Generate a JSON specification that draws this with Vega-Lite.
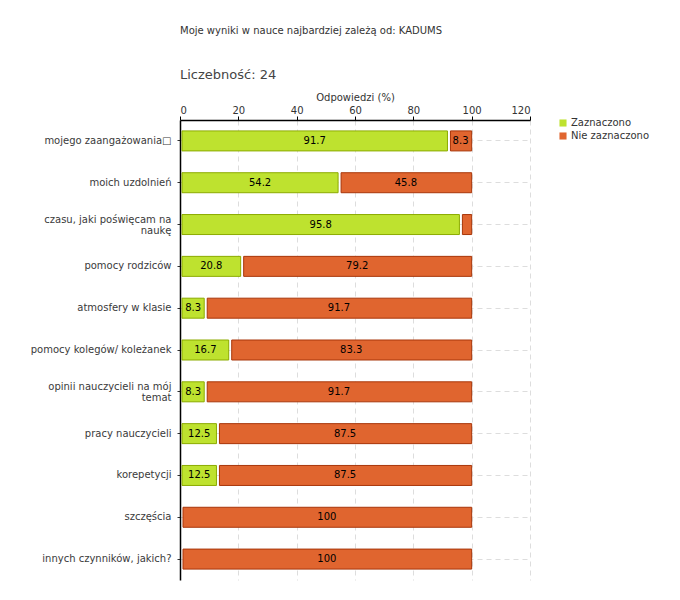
{
  "$schema": "https://vega.github.io/schema/vega-lite/v6.json",
  "width": 350,
  "height": 460,
  "autosize": {"type": "none"},
  "padding": {"left": 180, "top": 120, "right": 150, "bottom": 20},
  "background": "white",
  "title": {
    "text": "Moje wyniki w nauce najbardziej zależą od: KADUMS",
    "subtitle": "Liczebność: 24",
    "anchor": "start",
    "frame": "group",
    "font": "DejaVu Sans",
    "fontSize": 10,
    "fontWeight": "normal",
    "color": "#333333",
    "subtitleFont": "DejaVu Sans",
    "subtitleFontSize": 13,
    "subtitleColor": "#444444",
    "subtitlePadding": 33,
    "offset": 10
  },
  "config": {
    "view": {"stroke": null},
    "font": "DejaVu Sans"
  },
  "data": {
    "values": [
      {"cat": "mojego zaangażowania□", "series": "Zaznaczono", "o": 1, "value": 91.7},
      {"cat": "mojego zaangażowania□", "series": "Nie zaznaczono", "o": 2, "value": 8.3},
      {"cat": "moich uzdolnień", "series": "Zaznaczono", "o": 1, "value": 54.2},
      {"cat": "moich uzdolnień", "series": "Nie zaznaczono", "o": 2, "value": 45.8},
      {"cat": "czasu, jaki poświęcam na\nnaukę", "series": "Zaznaczono", "o": 1, "value": 95.8},
      {"cat": "czasu, jaki poświęcam na\nnaukę", "series": "Nie zaznaczono", "o": 2, "value": 4.2},
      {"cat": "pomocy rodziców", "series": "Zaznaczono", "o": 1, "value": 20.8},
      {"cat": "pomocy rodziców", "series": "Nie zaznaczono", "o": 2, "value": 79.2},
      {"cat": "atmosfery w klasie", "series": "Zaznaczono", "o": 1, "value": 8.3},
      {"cat": "atmosfery w klasie", "series": "Nie zaznaczono", "o": 2, "value": 91.7},
      {"cat": "pomocy kolegów/ koleżanek", "series": "Zaznaczono", "o": 1, "value": 16.7},
      {"cat": "pomocy kolegów/ koleżanek", "series": "Nie zaznaczono", "o": 2, "value": 83.3},
      {"cat": "opinii nauczycieli na mój\ntemat", "series": "Zaznaczono", "o": 1, "value": 8.3},
      {"cat": "opinii nauczycieli na mój\ntemat", "series": "Nie zaznaczono", "o": 2, "value": 91.7},
      {"cat": "pracy nauczycieli", "series": "Zaznaczono", "o": 1, "value": 12.5},
      {"cat": "pracy nauczycieli", "series": "Nie zaznaczono", "o": 2, "value": 87.5},
      {"cat": "korepetycji", "series": "Zaznaczono", "o": 1, "value": 12.5},
      {"cat": "korepetycji", "series": "Nie zaznaczono", "o": 2, "value": 87.5},
      {"cat": "szczęścia", "series": "Zaznaczono", "o": 1, "value": 0},
      {"cat": "szczęścia", "series": "Nie zaznaczono", "o": 2, "value": 100},
      {"cat": "innych czynników, jakich?", "series": "Zaznaczono", "o": 1, "value": 0},
      {"cat": "innych czynników, jakich?", "series": "Nie zaznaczono", "o": 2, "value": 100}
    ]
  },
  "transform": [
    {"stack": "value", "groupby": ["cat"], "sort": [{"field": "o"}], "as": ["x0", "x1"]},
    {"calculate": "(datum.x0 + datum.x1) / 2", "as": "mid"}
  ],
  "encoding": {
    "y": {
      "field": "cat",
      "type": "nominal",
      "sort": null,
      "scale": {"paddingInner": 0, "paddingOuter": 0},
      "axis": {
        "title": null,
        "labelExpr": "split(datum.label, '\\n')",
        "labelFont": "DejaVu Sans",
        "labelFontSize": 10,
        "labelColor": "#3a3a3a",
        "labelLimit": 300,
        "labelPadding": 6,
        "labelLineHeight": 11,
        "labelOffset": {"condition": {"test": "indexof(datum.value, '\\n') >= 0", "value": -5}, "value": 0},
        "tickSize": 3,
        "tickColor": "#333333",
        "domainColor": "#000000",
        "domainWidth": 1.5,
        "grid": true,
        "gridColor": "#dddddd",
        "gridDash": [5, 4]
      }
    }
  },
  "layer": [
    {
      "mark": {"type": "bar", "height": 20, "strokeWidth": 1, "xOffset": 2},
      "transform": [{"filter": "datum.value > 0 && datum.o === 1"}],
      "encoding": {
        "x": {
          "field": "x0",
          "type": "quantitative",
          "scale": {"domain": [0, 120], "nice": false},
          "axis": {
            "orient": "top",
            "title": "Odpowiedzi (%)",
            "titleFont": "DejaVu Sans",
            "titleFontSize": 10,
            "titleFontWeight": "normal",
            "titleColor": "#333333",
            "titlePadding": 3,
            "values": [0, 10, 20, 30, 40, 50, 60, 70, 80, 90, 100, 110, 120],
            "labelExpr": "datum.value % 20 === 0 ? datum.label : ''",
            "labelFont": "DejaVu Sans",
            "labelFontSize": 10,
            "labelColor": "#333333",
            "labelPadding": 1,
            "tickSize": 4,
            "tickColor": {"condition": {"test": "datum.value % 20 !== 0", "value": "#e00000"}, "value": "#000000"},
            "domainColor": "#000000",
            "domainWidth": 1.5,
            "grid": true,
            "gridColor": "#dddddd",
            "gridDash": [5, 4],
            "gridOpacity": {"condition": {"test": "datum.value % 20 !== 0 || datum.value === 0", "value": 0}, "value": 1}
          }
        },
        "x2": {"field": "x1"},
        "color": {
          "field": "series",
          "type": "nominal",
          "scale": {"domain": ["Zaznaczono", "Nie zaznaczono"], "range": ["#bee22f", "#e0652f"]},
          "legend": {
            "title": null,
            "orient": "none",
            "legendX": 378,
            "legendY": -2,
            "symbolType": "square",
            "symbolSize": 50,
            "symbolStrokeWidth": 0,
            "labelFont": "DejaVu Sans",
            "labelFontSize": 10,
            "labelColor": "#333333",
            "rowPadding": 3,
            "labelOffset": 3
          }
        },
        "stroke": {
          "field": "series",
          "type": "nominal",
          "scale": {"domain": ["Zaznaczono", "Nie zaznaczono"], "range": ["#8cab00", "#a8360a"]},
          "legend": null
        }
      }
    },
    {
      "mark": {"type": "bar", "height": 20, "strokeWidth": 1, "xOffset": 3},
      "transform": [{"filter": "datum.value > 0 && datum.o === 2"}],
      "encoding": {
        "x": {"field": "x0", "type": "quantitative"},
        "x2": {"field": "x1"},
        "color": {"field": "series", "type": "nominal"},
        "stroke": {"field": "series", "type": "nominal", "legend": null}
      }
    },
    {
      "mark": {"type": "text", "font": "DejaVu Sans", "fontSize": 10, "color": "#000000", "baseline": "middle", "align": "center", "dx": 1},
      "transform": [{"filter": "datum.value >= 5"}],
      "encoding": {
        "x": {"field": "mid", "type": "quantitative"},
        "text": {"field": "value", "type": "quantitative", "format": ".1~f"}
      }
    }
  ]
}
